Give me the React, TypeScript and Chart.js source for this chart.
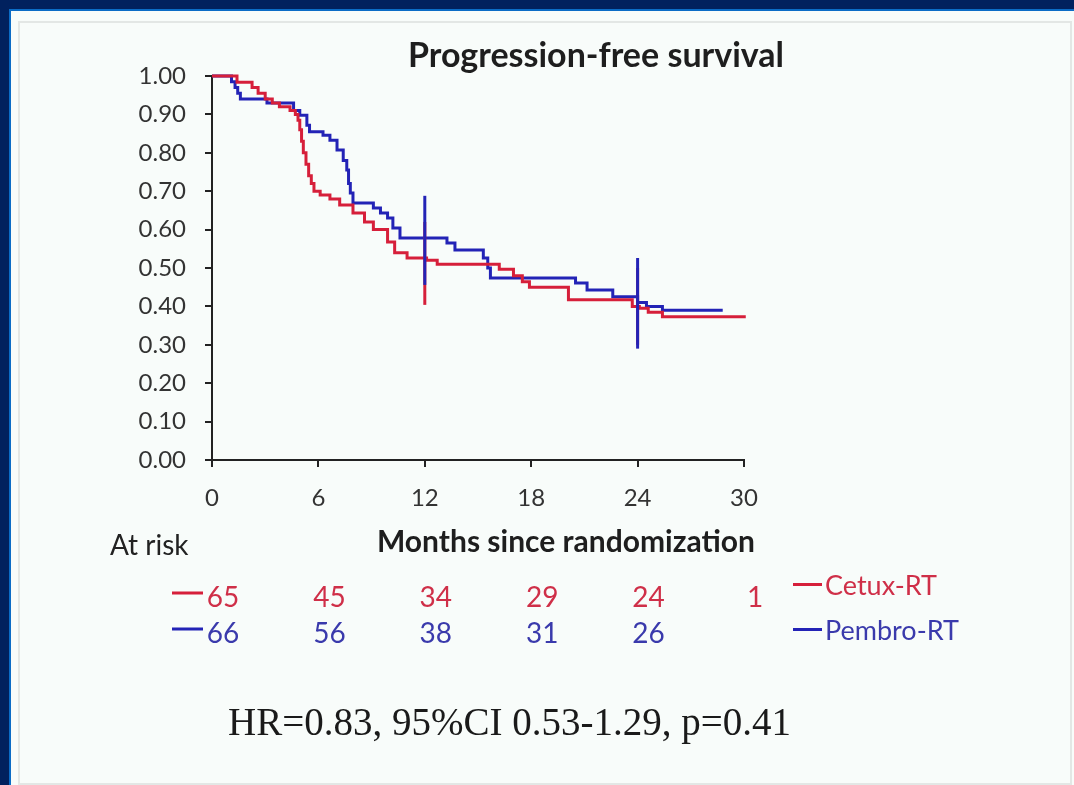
import React, { useEffect, useRef } from "react";
import { Chart, registerables } from "chart.js";

Chart.register(...registerables);

// Kaplan–Meier step points: time in months, survival proportion after the step
const cetuxTimes = [0, 1.41, 2.26, 2.6, 3.0, 3.4, 3.8, 4.4, 4.7, 4.85, 4.95, 5.05, 5.15, 5.3, 5.45, 5.6, 5.75, 6.1, 6.65, 7.2, 7.95, 8.6, 9.1, 9.9, 10.3, 11.0, 12.1, 12.7, 16.2, 17.0, 17.5, 17.9, 20.1, 23.7, 24.1, 24.6, 25.4, 30.1];
const cetuxSurv = [1.0, 0.984, 0.97, 0.955, 0.94, 0.93, 0.92, 0.91, 0.9, 0.885, 0.86, 0.83, 0.8, 0.77, 0.74, 0.72, 0.7, 0.69, 0.68, 0.664, 0.643, 0.62, 0.6, 0.568, 0.54, 0.526, 0.52, 0.51, 0.497, 0.48, 0.464, 0.45, 0.417, 0.4, 0.395, 0.385, 0.373, 0.373];

const pembroTimes = [0, 1.1, 1.3, 1.45, 1.6, 3.1, 4.6, 4.95, 5.35, 5.5, 6.26, 6.65, 7.05, 7.4, 7.6, 7.7, 7.8, 7.95, 9.1, 9.5, 9.9, 10.2, 10.6, 13.25, 13.7, 15.3, 15.55, 15.7, 20.5, 21.15, 22.6, 24.0, 24.5, 25.4, 28.8];
const pembroSurv = [1.0, 0.985, 0.97, 0.955, 0.94, 0.93, 0.91, 0.898, 0.872, 0.855, 0.846, 0.833, 0.807, 0.78, 0.755, 0.72, 0.695, 0.669, 0.656, 0.643, 0.63, 0.604, 0.578, 0.565, 0.547, 0.526, 0.5, 0.474, 0.461, 0.443, 0.425, 0.41, 0.4, 0.39, 0.39];

// Confidence bars at 12 and 24 months
const ciTimes = [12, 24];
const cetuxCiLow = [0.404, 0.3];
const cetuxCiHigh = [0.62, 0.5];
const pembroCiLow = [0.456, 0.29];
const pembroCiHigh = [0.688, 0.526];

// Number at risk
const riskMonths = [0, 6, 12, 18, 24, 30];
const cetuxAtRisk = [65, 45, 34, 29, 24, 1];
const pembroAtRisk = [66, 56, 38, 31, 26];

const xTickStep = 6;
const yTickStep = 0.1;

const RED = "#d61f3a";
const BLUE = "#2323b6";
const RED_TEXT = "#cf2f48";
const BLUE_TEXT = "#3a3aac";
const SANS = "Lato, 'Open Sans', sans-serif";

const atRiskPlugin = {
  id: "atRiskRows",
  afterDraw(chart: any) {
    const ctx = chart.ctx;
    const xs = chart.scales.x;
    ctx.save();
    ctx.font = `28px ${SANS}`;
    ctx.textAlign = "center";
    ctx.textBaseline = "middle";
    const rows = [
      { values: cetuxAtRisk, color: RED_TEXT, line: RED, y: 598 },
      { values: pembroAtRisk, color: BLUE_TEXT, line: BLUE, y: 634 },
    ];
    rows.forEach((row) => {
      const x0 = xs.getPixelForValue(riskMonths[0]);
      ctx.strokeStyle = row.line;
      ctx.lineWidth = 3;
      ctx.beginPath();
      ctx.moveTo(x0 - 40, row.y - 5);
      ctx.lineTo(x0 - 9, row.y - 5);
      ctx.stroke();
      ctx.fillStyle = row.color;
      row.values.forEach((v, i) => {
        ctx.fillText(String(v), xs.getPixelForValue(riskMonths[i]) + 11, row.y);
      });
    });
    ctx.restore();
  },
};

export default function App() {
  const canvasRef = useRef<HTMLCanvasElement | null>(null);

  useEffect(() => {
    if (!canvasRef.current) return;
    const toPoints = (ts: number[], ss: number[]) => ts.map((t, i) => ({ x: t, y: ss[i] }));
    const ciSets: any[] = [];
    ciTimes.forEach((t, i) => {
      ciSets.push({
        data: [{ x: t, y: pembroCiLow[i] }, { x: t, y: pembroCiHigh[i] }],
        borderColor: BLUE,
        borderWidth: 3,
        pointRadius: 0,
        order: 0,
      });
      ciSets.push({
        data: [{ x: t, y: cetuxCiLow[i] }, { x: t, y: cetuxCiHigh[i] }],
        borderColor: RED,
        borderWidth: 3,
        pointRadius: 0,
        order: 1,
      });
    });

    const chart = new Chart(canvasRef.current, {
      type: "line",
      data: {
        datasets: [
          ...ciSets,
          {
            label: "Cetux-RT",
            data: toPoints(cetuxTimes, cetuxSurv),
            borderColor: RED,
            borderWidth: 3,
            pointRadius: 0,
            stepped: "before",
            order: 2,
          },
          {
            label: "Pembro-RT",
            data: toPoints(pembroTimes, pembroSurv),
            borderColor: BLUE,
            borderWidth: 3,
            pointRadius: 0,
            stepped: "before",
            order: 3,
          },
        ],
      },
      options: {
        animation: false,
        responsive: false,
        maintainAspectRatio: false,
        clip: false as any,
        layout: { padding: { left: 112, right: 330, top: 76, bottom: 265 } },
        plugins: {
          legend: { display: false },
          tooltip: { enabled: false },
          title: { display: false },
        },
        scales: {
          x: {
            type: "linear",
            min: 0,
            max: 30,
            ticks: {
              stepSize: xTickStep,
              color: "#333",
              font: { family: SANS, size: 24 },
              padding: 17,
            },
            grid: { drawOnChartArea: false, drawTicks: true, tickLength: 7, color: "#222", lineWidth: 2 },
            border: { display: true, color: "#222", width: 2 },
            afterFit: (s: any) => {
              s.height = 60;
            },
          },
          y: {
            min: 0,
            max: 1,
            ticks: {
              stepSize: yTickStep,
              color: "#333",
              font: { family: SANS, size: 24 },
              padding: 19,
              callback: (v: any) => Number(v).toFixed(2),
            },
            grid: { drawOnChartArea: false, drawTicks: true, tickLength: 7, color: "#222", lineWidth: 2 },
            border: { display: true, color: "#222", width: 2 },
            afterFit: (s: any) => {
              s.width = 100;
            },
          },
        },
      },
      plugins: [atRiskPlugin],
    });
    return () => chart.destroy();
  }, []);

  const abs = (extra: React.CSSProperties): React.CSSProperties => ({
    position: "absolute",
    whiteSpace: "nowrap",
    lineHeight: 1,
    ...extra,
  });

  return (
    <div
      style={{
        position: "fixed",
        left: 0,
        top: 0,
        width: 1074,
        height: 785,
        overflow: "hidden",
        background: "#01215e",
      }}
    >
      <div style={{ position: "absolute", left: 9, top: 9, right: 0, bottom: 0, background: "#0b6cc6" }} />
      <div style={{ position: "absolute", left: 11, top: 11, right: 0, bottom: 0, background: "#f8fcfa" }} />
      <div
        style={{
          position: "absolute",
          left: 18,
          top: 21,
          width: 1050,
          height: 760,
          border: "2px solid #e3e7e5",
        }}
      />
      <canvas
        ref={canvasRef}
        width={1074}
        height={785}
        style={{ position: "absolute", left: 0, top: 0, width: 1074, height: 785 }}
      />
      <div
        style={abs({
          left: 596,
          top: 37,
          transform: "translateX(-50%)",
          fontFamily: SANS,
          fontWeight: 700,
          fontSize: 34,
          color: "#1e1e1e",
        })}
      >
        Progression-free survival
      </div>
      <div style={abs({ left: 110, top: 530, fontFamily: SANS, fontSize: 28, color: "#222" })}>At risk</div>
      <div
        style={abs({
          left: 566,
          top: 525,
          transform: "translateX(-50%)",
          fontFamily: SANS,
          fontWeight: 700,
          fontSize: 30,
          color: "#1e1e1e",
        })}
      >
        Months since randomization
      </div>
      <div style={abs({ left: 793, top: 583, width: 29, height: 3, background: RED })} />
      <div style={abs({ left: 825, top: 571, fontFamily: SANS, fontSize: 27, color: RED_TEXT })}>Cetux-RT</div>
      <div style={abs({ left: 793, top: 628, width: 29, height: 3, background: BLUE })} />
      <div style={abs({ left: 825, top: 616, fontFamily: SANS, fontSize: 27, color: BLUE_TEXT })}>Pembro-RT</div>
      <div
        style={abs({
          left: 228,
          top: 702,
          fontFamily: "'Liberation Serif', 'Times New Roman', serif",
          fontSize: 39,
          color: "#1a1a1a",
        })}
      >
        HR=0.83, 95%CI 0.53-1.29, p=0.41
      </div>
    </div>
  );
}
